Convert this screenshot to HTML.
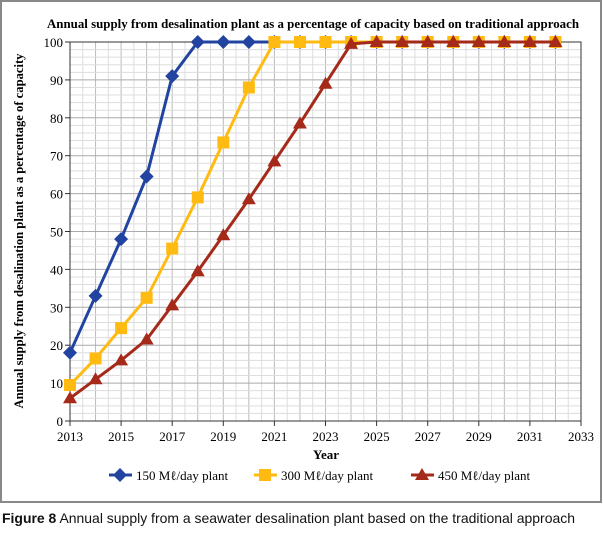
<!DOCTYPE html>
<html><head><meta charset="utf-8"><style>
body{margin:0;width:603px;height:535px;background:#fff;overflow:hidden}
svg{display:block}
</style></head><body>
<svg id="c" width="603" height="535" xmlns="http://www.w3.org/2000/svg">
<rect x="1" y="1" width="600" height="501" fill="#fff" stroke="#888" stroke-width="2"/>
<text x="313" y="28" text-anchor="middle" font-family="Liberation Serif, serif" font-weight="bold" font-size="13" textLength="532" lengthAdjust="spacingAndGlyphs">Annual supply from desalination plant as a percentage of capacity based on traditional approach</text>
<g id="grid"></g>
<g id="axes"></g>
<g id="series"></g>
<text x="326" y="459" text-anchor="middle" font-family="Liberation Serif, serif" font-weight="bold" font-size="13">Year</text>
<text transform="translate(23,231) rotate(-90)" text-anchor="middle" font-family="Liberation Serif, serif" font-weight="bold" font-size="13" textLength="355" lengthAdjust="spacingAndGlyphs">Annual supply from desalination plant as a percentage of capacity</text>
<g id="legend"></g>
<text x="2" y="523" font-family="Liberation Sans, sans-serif" font-size="14" fill="#111" textLength="573" lengthAdjust="spacingAndGlyphs"><tspan font-weight="bold">Figure 8</tspan> Annual supply from a seawater desalination plant based on the traditional approach</text>
</svg>
<script>
const years=[2013,2014,2015,2016,2017,2018,2019,2020,2021,2022,2023,2024,2025,2026,2027,2028,2029,2030,2031,2032];
const s150=[18,33,48,64.5,91,100,100,100,100,100,100,100,100,100,100,100,100,100,100,100];
const s300=[9.5,16.5,24.5,32.5,45.5,59,73.5,88,100,100,100,100,100,100,100,100,100,100,100,100];
const s450=[6,11,16,21.5,30.5,39.5,49,58.5,68.5,78.5,89,99.5,100,100,100,100,100,100,100,100];
const xTicks=[2013,2015,2017,2019,2021,2023,2025,2027,2029,2031,2033];
const yTicks=[0,10,20,30,40,50,60,70,80,90,100];
const NS="http://www.w3.org/2000/svg";
const X0=70,X1=581,Y0=421,Y1=42;
const xs=v=>X0+(v-2013)/20*(X1-X0);
const ys=v=>Y0-v/100*(Y0-Y1);
function mk(p,t,a){const e=document.createElementNS(NS,t);for(const k in a)e.setAttribute(k,a[k]);p.appendChild(e);return e;}
const grid=document.getElementById('grid'),axes=document.getElementById('axes'),ser=document.getElementById('series'),leg=document.getElementById('legend');
for(let v=2013;v<=2033.01;v+=0.5){const l=mk(grid,'line',{x1:xs(v),x2:xs(v),y1:Y1,y2:Y0,stroke:Number.isInteger(v)?'#bbb':'#ddd','stroke-width':1});

}
for(let v=0;v<=100;v+=2){const l=mk(grid,'line',{x1:X0,x2:X1,y1:ys(v),y2:ys(v),stroke:v%10==0?'#aaa':'#ddd','stroke-width':1});

}
mk(axes,'rect',{x:X0,y:Y1,width:X1-X0,height:Y0-Y1,fill:'none',stroke:'#333','stroke-width':1});
xTicks.forEach(t=>{mk(axes,'line',{x1:xs(t),x2:xs(t),y1:Y0,y2:Y0+5,stroke:'#333'});
const e=mk(axes,'text',{x:xs(t),y:Y0+20,'text-anchor':'middle','font-family':'Liberation Serif, serif','font-size':'13'});e.textContent=t;

});
yTicks.forEach(t=>{mk(axes,'line',{x1:X0-5,x2:X0,y1:ys(t),y2:ys(t),stroke:'#333'});
const e=mk(axes,'text',{x:X0-7,y:ys(t)+5,'text-anchor':'end','font-family':'Liberation Serif, serif','font-size':'13'});e.textContent=t;

});
function marker(g,type,x,y,c){
 if(type==='d')return mk(g,'polygon',{points:`${x},${y-7} ${x+7},${y} ${x},${y+7} ${x-7},${y}`,fill:c});
 if(type==='s')return mk(g,'rect',{x:x-6,y:y-6,width:12,height:12,fill:c});
 return mk(g,'polygon',{points:`${x},${y-7} ${x+7},${y+5} ${x-7},${y+5}`,fill:c});}
const S=[{d:s150,c:'#2244a0',m:'d',n:'150'},{d:s300,c:'#ffbb11',m:'s',n:'300'},{d:s450,c:'#a52a1a',m:'t',n:'450'}];
S.forEach(s=>{const g=mk(ser,'g',{});


const pl=mk(g,'polyline',{points:years.map((y,i)=>xs(y)+','+ys(s.d[i])).join(' '),fill:'none',stroke:s.c,'stroke-width':3,'stroke-linejoin':'round'});


years.forEach((y,i)=>{const m=marker(g,s.m,xs(y),ys(s.d[i]),s.c);

});});
const lx=[120,265,422];
const LY=475;
S.forEach((s,i)=>{const g=mk(leg,'g',{});


mk(g,'line',{x1:lx[i]-11,x2:lx[i]+12,y1:LY,y2:LY,stroke:s.c,'stroke-width':3});
marker(g,s.m,lx[i],LY,s.c);
const t=mk(g,'text',{x:lx[i]+16,y:LY+5,'font-family':'Liberation Serif, serif','font-size':'13'});t.textContent=s.n+' Mℓ/day plant';});
</script>
</body></html>
